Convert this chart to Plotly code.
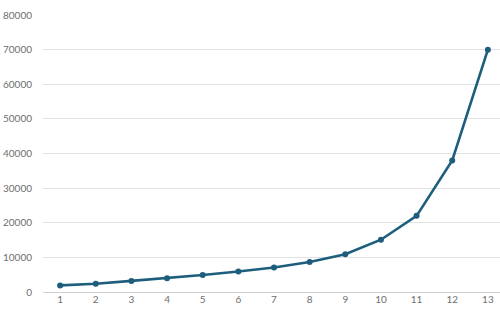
import plotly.graph_objects as go

x_vals = [1, 2, 3, 4, 5, 6, 7, 8, 9, 10, 11, 12, 13]
y_vals = [1900, 2400, 3200, 3950, 4900, 5900, 7100, 8650, 10900, 15100, 22000, 38000, 70000]
x_ticks = [str(v) for v in x_vals]

fig = go.Figure(go.Scatter(
    x=x_vals, y=y_vals, mode="lines+markers",
    line=dict(color="#1d5e7c", width=2.6),
    marker=dict(color="#1d5e7c", size=6),
))
fig.update_layout(
    width=500, height=311,
    margin=dict(l=43, r=0, t=15, b=19),
    paper_bgcolor="white", plot_bgcolor="white",
    showlegend=False,
    font=dict(family="Lato, Liberation Sans, sans-serif", size=10, color="#6e6e6e"),
)
fig.update_xaxes(
    range=[0.52, 13.34], tickvals=x_vals, ticktext=x_ticks,
    showgrid=False, zeroline=False, showline=False, ticks="",
    tickfont=dict(size=10, color="#6e6e6e"),
)
fig.update_yaxes(
    range=[0, 80000], dtick=10000, tickformat="d",
    showgrid=True, gridcolor="#e2e2e2", gridwidth=1,
    zeroline=True, zerolinecolor="#d0d0d0", zerolinewidth=1,
    showline=False, ticks="", ticklabelstandoff=10,
    tickfont=dict(size=10, color="#6e6e6e"),
)
fig.write_html("out.html")
